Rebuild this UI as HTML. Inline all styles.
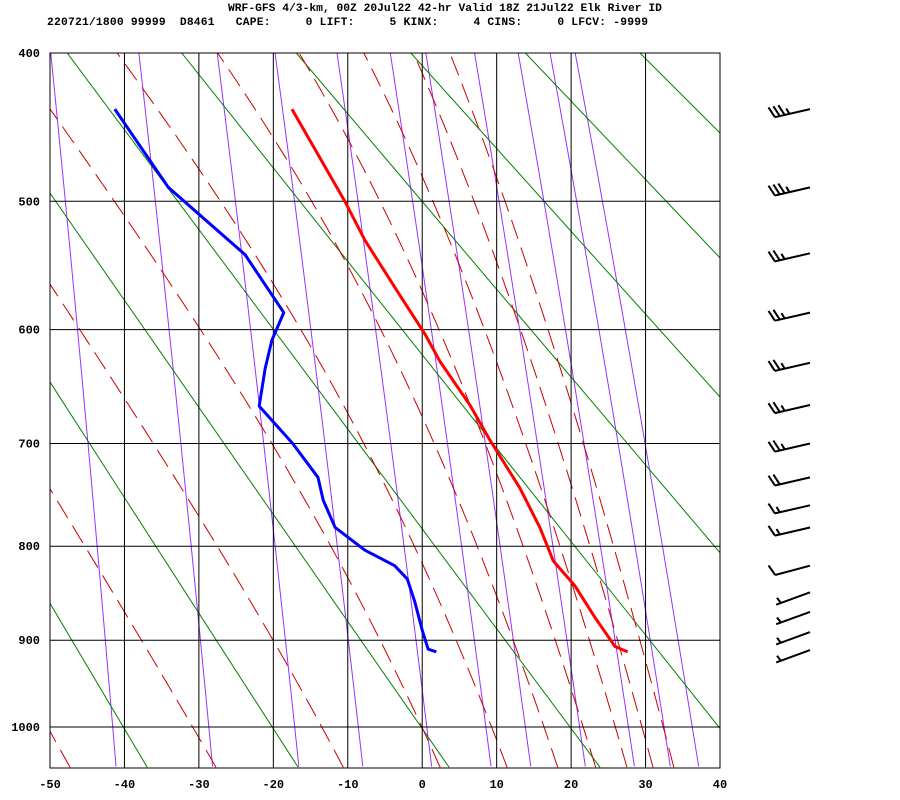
<!DOCTYPE html>
<html><head><meta charset="utf-8"><style>
html,body{margin:0;padding:0;background:#fff;}
svg{display:block;}
text{font-family:"Liberation Mono",monospace;font-weight:bold;fill:#000;}
</style></head><body>
<svg id="chart" width="900" height="800" viewBox="0 0 900 800" xmlns="http://www.w3.org/2000/svg">
<text x="228" y="11" font-size="11.3" xml:space="preserve">WRF-GFS 4/3-km, 00Z 20Jul22 42-hr Valid 18Z 21Jul22 Elk River ID</text>
<text x="47" y="25" font-size="11.3" xml:space="preserve" textLength="601">220721/1800 99999  D8461   CAPE:     0 LIFT:     5 KINX:     4 CINS:     0 LFCV: -9999</text>
<defs><clipPath id="plotclip"><rect x="50" y="53" width="670" height="715"/></clipPath></defs>
<g id="bg" clip-path="url(#plotclip)"></g>
<g id="grid"></g>
<g id="series" clip-path="url(#plotclip)"></g>
<rect x="50" y="53" width="670" height="715" fill="none" stroke="#000" stroke-width="1"/>
<g id="axes"></g>
<g id="barbs"></g>
</svg>
<script>
// ---- data ----
const tempTicks = [-50,-40,-30,-20,-10,0,10,20,30,40];
const presTicks = [400,500,600,700,800,900,1000];
const tempP = [436,500,529,572,604,627,665,697,742,781,815,841,875,907,913];
const tempT = [-17.5,-10.4,-7.7,-3.0,0.4,2.4,6.4,9.1,13.1,15.8,17.6,20.5,23.2,25.9,27.6];
const dewP = [436,490,540,586,609,633,666,700,732,754,781,804,820,834,858,889,910,913];
const dewT = [-41.3,-34.1,-23.8,-18.6,-20.2,-21.1,-21.9,-17.4,-14.0,-13.3,-11.7,-7.7,-3.7,-2.0,-1.0,0.0,0.8,1.9];
const windP = [436,490,539,586,628,665,700,732,759,781,820,848,869,891,911];
const windSpd = [35,35,25,25,25,25,25,20,15,15,10,5,5,5,5];
const windDir = [257,257,257,257,257,257,257,257,257,257,255,250,250,250,250];
const dryTheta = [233,253,273,293,313,333,353,373,393];
const mixRatios = [0.1,0.36,1,2,4,7,10,16,24,32,40];
const moistStartT = [-47.3,-27.7,-10.6,2.4,11.4,18.2,23.3,27.5,31.0,33.8];

// ---- axes ----
const K = 0.286, S0 = Math.pow(400,K), S1 = Math.pow(1000,K);
function xT(t){ return 50 + (t+50)*(670/90); }
function yP(p){ return 53 + (Math.pow(p,K)-S0)/(S1-S0)*674; }
const PBOT = 1049;
const NS = 'http://www.w3.org/2000/svg';
function mk(tag, attrs, parent){ const e=document.createElementNS(NS,tag); for(const k in attrs) e.setAttribute(k,attrs[k]); parent.appendChild(e); return e; }
function pathFrom(pts){ return pts.map((q,i)=>(i?'L':'M')+q[0].toFixed(2)+','+q[1].toFixed(2)).join(''); }
const bg = document.getElementById('bg'), grid=document.getElementById('grid'), axes=document.getElementById('axes'), series=document.getElementById('series'), barbs=document.getElementById('barbs');
const pLevels=[]; for(let p=400;p<=PBOT+1;p+=3) pLevels.push(p);

// mixing ratio lines (purple)
mixRatios.forEach(w=>{
  const pts = pLevels.map(p=>{ const e=w*p/(622+w); const l=Math.log(e/6.112); const td=243.5*l/(17.67-l); return [xT(td),yP(p)]; });
  const el = mk('path',{d:pathFrom(pts),fill:'none',stroke:'#9b30ff','stroke-width':1},bg);
  
  
});
// dry adiabats (green)
dryTheta.forEach(th=>{
  const pts = [400,PBOT].map(p=>[xT(th*Math.pow(p/1000,K)-273.15),yP(p)]);
  const el = mk('path',{d:pathFrom(pts),fill:'none',stroke:'#008000','stroke-width':1},bg);
  
  
});
// moist adiabats (red dashed)
function es(tc){ return 6.112*Math.exp(17.67*tc/(tc+243.5)); }
moistStartT.forEach(t0=>{
  let T=t0+273.15, p=PBOT; const pts=[[xT(t0),yP(p)]];
  const Rd=287, cp=1005, L=2.5e6, eps=0.622;
  while(p>400){
    const dp=-1;
    const f=(pp,TT)=>{ const e=es(TT-273.15); const rs=eps*e/(pp-e); return (Rd*TT+L*rs)/(pp*(cp+L*L*rs*eps/(Rd*TT*TT))); };
    const k1=f(p,T), k2=f(p+dp/2,T+k1*dp/2), k3=f(p+dp/2,T+k2*dp/2), k4=f(p+dp,T+k3*dp);
    T+=dp*(k1+2*k2+2*k3+k4)/6; p+=dp;
    if(Math.round(p)%4===0) pts.push([xT(T-273.15),yP(p)]);
  }
  const el = mk('path',{d:pathFrom(pts),fill:'none',stroke:'#cc0000','stroke-width':1,'stroke-dasharray':'20 9'},bg);
  
  
});
// grid
tempTicks.forEach(t=>{
  const el = mk('line',{x1:xT(t),x2:xT(t),y1:53,y2:768,stroke:'#000','stroke-width':1},grid);
  
  
  const lb = mk('text',{x:xT(t),y:788,'font-size':12,'text-anchor':'middle'},axes);
  lb.textContent=String(t);
  
  
});
presTicks.forEach(p=>{
  const el = mk('line',{x1:50,x2:720,y1:yP(p),y2:yP(p),stroke:'#000','stroke-width':1},grid);
  
  
  const lb = mk('text',{x:40,y:yP(p)+4,'font-size':12,'text-anchor':'end'},axes);
  lb.textContent=String(p);
  
  
});
// series
const tl = mk('path',{d:pathFrom(tempP.map((p,i)=>[xT(tempT[i]),yP(p)])),fill:'none',stroke:'#ff0000','stroke-width':3,'stroke-linejoin':'round'},series);


const dl = mk('path',{d:pathFrom(dewP.map((p,i)=>[xT(dewT[i]),yP(p)])),fill:'none',stroke:'#0000ff','stroke-width':3,'stroke-linejoin':'round'},series);


// wind barbs
windP.forEach((p,i)=>{
  const sx=810, sy=yP(p), d=windDir[i]*Math.PI/180;
  const ux=Math.sin(d), uy=-Math.cos(d), px=-uy, py=ux;
  const g = mk('g',{},barbs);
  
  
  const len=36;
  let dstr='M'+sx+','+sy.toFixed(1)+'L'+(sx+ux*len).toFixed(1)+','+(sy+uy*len).toFixed(1);
  let spd=windSpd[i], pos=len;
  const full=Math.floor(spd/10), half=(spd%10)>=5;
  for(let k=0;k<full;k++){ const bx=sx+ux*pos, by=sy+uy*pos; dstr+='M'+bx.toFixed(1)+','+by.toFixed(1)+'l'+(px*11+ux*4).toFixed(1)+','+(py*11+uy*4).toFixed(1); pos-=5; }
  if(half){ if(full===0) pos-=5; const bx=sx+ux*pos, by=sy+uy*pos; dstr+='M'+bx.toFixed(1)+','+by.toFixed(1)+'l'+(px*6+ux*2).toFixed(1)+','+(py*6+uy*2).toFixed(1); }
  mk('path',{d:dstr,fill:'none',stroke:'#000','stroke-width':2},g);
});
</script>
</body></html>
